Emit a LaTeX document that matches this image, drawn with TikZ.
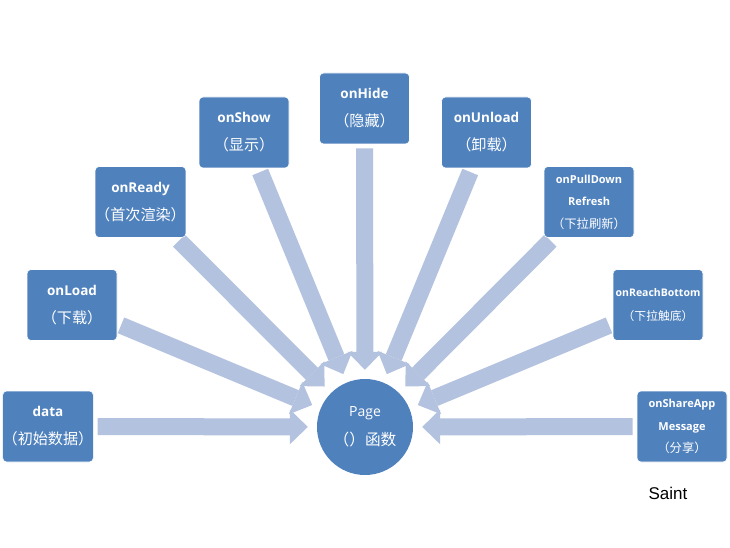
\documentclass[tikz,border=0pt]{standalone}
\usepackage{fontspec}
\setmainfont{Open Sans}
\newfontfamily\cjk[Scale=1.12]{Noto Sans CJK SC}
\newfontfamily\signfont{Liberation Sans}
\usepackage{tikz}
\usetikzlibrary{arrows.meta,shapes.geometric}
\definecolor{hookblue}{HTML}{4F81BD}
\definecolor{flowblue}{HTML}{B3C2DE}
\pgfdeclarelayer{background}
\pgfsetlayers{background,main}

\begin{document}
\begin{tikzpicture}[x=1pt,y=-1pt,flow/.style={draw=flowblue,line width=17pt,-{Triangle[length=18pt,width=35pt,line width=0pt]},shorten <=4pt,shorten >=9pt}]
            \tikzstyle{hook}=[rectangle,rounded corners=4pt,fill=hookblue,draw=white,line width=0.6pt,minimum width=90pt,minimum height=71pt,inner sep=0pt,text=white,align=center,font=\fontsize{13.5}{28}\selectfont]
            \tikzstyle{small hook}=[hook,font=\fontsize{11}{22.5}\selectfont]
            \useasboundingbox (0,0) rectangle (730,548);
            \node(page)[circle,fill=hookblue,minimum size=96pt,inner sep=0pt,text=white,align=center,font=\fontsize{14}{29}\selectfont] at (365,427) {Page\\{\cjk （）函数}};
            \node(data)[hook] at (48,426.5) {\textbf{data}\\{\cjk （初始数据）}};
            \node(load)[hook] at (72,305) {\textbf{onLoad}\\{\cjk （下载）}};
            \node(ready)[hook] at (140.5,202) {\textbf{onReady}\\{\cjk （首次渲染）}};
            \node(show)[hook] at (244,132.5) {\textbf{onShow}\\{\cjk （显示）}};
            \node(hide)[hook] at (364.5,108.5) {\textbf{onHide}\\{\cjk （隐藏）}};
            \node(unload)[hook] at (486.5,132.5) {\textbf{onUnload}\\{\cjk （卸载）}};
            \node(pull)[small hook] at (589,202) {\textbf{onPullDown}\\\textbf{Refresh}\\{\cjk （下拉刷新）}};
            \node(reach)[small hook,font=\fontsize{10.5}{24}\selectfont] at (658,305) {\textbf{onReachBottom}\\{\cjk （下拉触底）}};
            \node(share)[small hook] at (682,426.5) {\textbf{onShareApp}\\\textbf{Message}\\{\cjk （分享）}};
            \begin{pgfonlayer}{background}
              \foreach \n in {data,load,ready,show,hide,unload,pull,reach,share}
                \draw[flow] (\n) -- (page);
            \end{pgfonlayer}
            \node(saint) at (668,493) {\signfont\fontsize{17}{20}\selectfont Saint};
\end{tikzpicture}
\end{document}
